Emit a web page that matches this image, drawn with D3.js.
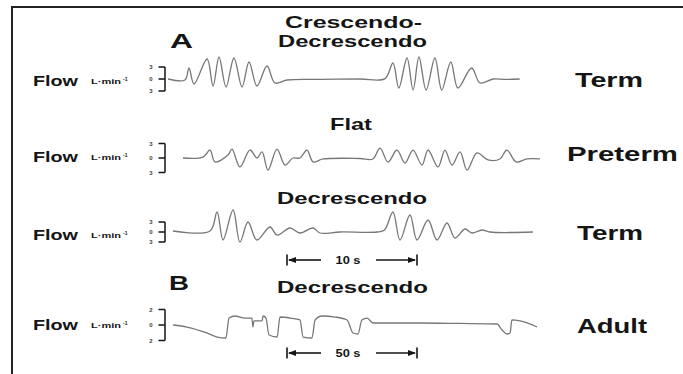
<!DOCTYPE html>
<html><head><meta charset="utf-8">
<script src="https://cdn.jsdelivr.net/npm/d3@7"></script>
<style>body{margin:0;background:#fff}svg{display:block}</style>
</head><body><svg id="c" width="683" height="374"></svg>
<script>
// ---- data: [time (s), flow (L·min-1)] ----
const termCrescDecresc = [
 [-0.15,0],[1.15,-0.25],[1.46,2.75],[1.85,-1.25],[2.85,5.0],[3.31,-1.75],[3.77,5.5],[4.31,-2.0],
 [4.92,5.25],[5.54,-2.0],[6.08,4.25],[6.69,-1.75],[7.46,3.25],[8.08,-1.0],[9.0,-0.25],[11.54,-0.1],
 [14.6,0],[16.54,0.1],[17.15,4.0],[17.6,-2.25],[18.23,5.25],[18.7,-2.75],[19.15,5.5],[19.7,-2.75],
 [20.38,5.25],[20.9,-2.75],[21.6,4.25],[22.15,-2.25],[23.2,2.75],[23.85,-1.0],[24.85,0],[25.77,-0.1],[26.9,0]
];
const pretermFlat = [
 [1.0,0],[2.54,0.2],[3.08,1.65],[3.46,-0.8],[4.46,0.6],[4.77,1.85],[5.38,-1.85],[6.15,1.65],[6.69,0],
 [7.08,1.25],[7.54,-2.5],[8.23,1.85],[8.85,-1.45],[9.46,0],[10.0,0],[10.54,1.65],[11.0,-0.8],[11.77,-0.2],
 [14.6,-0.1],[15.6,-0.2],[16.15,2.05],[16.77,-0.85],[17.46,1.65],[18.08,-1.05],[18.69,1.65],[19.38,-1.45],
 [19.85,1.65],[20.62,-1.85],[21.15,1.65],[21.69,-1.45],[22.31,1.25],[22.85,-2.5],[23.62,1.05],[24.46,-0.4],
 [25.38,-0.2],[25.92,1.65],[26.62,-0.8],[27.46,-0.2],[28.46,-0.2]
];
const termDecresc = [
 [0.23,0.3],[3.08,0.3],[3.62,6.0],[4.08,-2.4],[4.85,6.6],[5.38,-3.0],[6.0,3.0],[6.69,-2.4],[7.69,1.5],
 [8.23,-0.9],[9.23,1.2],[10.0,-0.3],[11.0,1.2],[11.54,-0.3],[13.08,0],[15.92,0],[16.5,0.6],[17.15,6.0],
 [17.69,-2.4],[18.46,5.1],[19.0,-2.4],[19.85,3.6],[20.54,-2.4],[21.31,2.7],[21.92,-1.8],[22.69,0.9],
 [23.23,-0.3],[24.0,0.6],[24.62,0],[27.92,0]
];
const adultDecresc = [
 [1.2,0],[6.5,-0.26],[14.2,-1.03],[18.1,-1.55],[21.5,-1.68],[22.7,0.9],[25.0,1.16],[28.8,0.9],[31.5,0.9],
 [31.9,-0.26],[32.3,0.52],[35.4,0.52],[35.8,1.16],[36.9,0.9],[38.1,-1.29],[41.2,-1.55],[42.3,1.03],
 [46.2,0.9],[50.0,0.65],[51.2,-1.55],[54.6,-1.68],[55.8,0.65],[58.5,1.16],[63.5,1.03],[68.1,0.65],
 [70.4,-1.03],[72.3,-1.16],[73.8,0.65],[75.8,0.9],[78.1,0.26],[96.2,0.26],[111.5,0.2],[125.8,0.13],
 [127.7,-0.65],[129.6,-1.16],[130.8,-1.03],[131.5,0.65],[134.6,0.52],[141.2,-0.26]
];
const infantTickValues = [3, 0, -3];
const infantTickLabels = ["3", "0", "3"];
const adultTickValues = [2, 0, -2];
const adultTickLabels = ["2", "0", "2"];
const patternTitles = [["Crescendo-", "Decrescendo"], ["Flat"], ["Decrescendo"], ["Decrescendo"]];
const groupLabels = ["Term", "Preterm", "Term", "Adult"];
const panelLetters = ["A", "B"];
const scaleBarLabels = ["10 s", "50 s"];
const scaleBarSpans = [[9, 19], [45, 95]];

// ---- layout ----
const svg = d3.select("#c");
const font = "'Liberation Sans', Arial, sans-serif";
const ink = "#151515";
const xInfant = d3.scaleLinear().domain([0, 10]).range([170, 300]);
const xAdult = d3.scaleLinear().domain([0, 50]).range([170, 300]);

function txt(x, y, s, size, len, anchor) {
  const t = svg.append("text").attr("x", x).attr("y", y).text(s)
    .attr("font-family", font).attr("font-weight", "bold").attr("font-size", size)
    .attr("fill", ink).attr("text-anchor", anchor || "start");
  if (len) t.attr("textLength", len).attr("lengthAdjust", "spacingAndGlyphs");
  return t;
}

// frame
svg.append("line").attr("x1", 12).attr("x2", 683).attr("y1", 7).attr("y2", 7).attr("stroke", "#222").attr("stroke-width", 2);
svg.append("line").attr("x1", 12).attr("x2", 12).attr("y1", 6).attr("y2", 374).attr("stroke", "#222").attr("stroke-width", 2);

const rows = [
  {data: termCrescDecresc, xs: xInfant, y0: 79, half: 12, tv: infantTickValues, tl: infantTickLabels,
   flowY: 86, label: {x: 575, w: 68, y: 87}, titleY: [28, 47], titleX: [285, 278], titleW: [137, 149]},
  {data: pretermFlat, xs: xInfant, y0: 158, half: 14.5, tv: infantTickValues, tl: infantTickLabels,
   flowY: 162, label: {x: 567, w: 111, y: 161}, titleY: [130], titleX: [330], titleW: [42]},
  {data: termDecresc, xs: xInfant, y0: 232, half: 10, tv: infantTickValues, tl: infantTickLabels,
   flowY: 240, label: {x: 577, w: 66, y: 240}, titleY: [204], titleX: [277], titleW: [150]},
  {data: adultDecresc, xs: xAdult, y0: 325, half: 15.5, tv: adultTickValues, tl: adultTickLabels,
   flowY: 330, label: {x: 577, w: 70, y: 333}, titleY: [293], titleX: [277], titleW: [151]}
];

rows.forEach((r, i) => {
  const maxV = r.tv[0];
  const ys = d3.scaleLinear().domain([-maxV, maxV]).range([r.y0 + r.half, r.y0 - r.half]);
  txt(33, r.flowY, "Flow", 14, 45);
  txt(91, r.flowY - 2, "L·min", 7.5, 30);
  svg.append("text").attr("x", 123).attr("y", r.flowY - 5).text("-1")
    .attr("font-family", font).attr("font-weight", "bold").attr("font-size", 5).attr("fill", ink);
  const g = svg.append("g").attr("stroke", ink).attr("stroke-width", 1.5).attr("fill", "none");
  g.append("line").attr("x1", 165).attr("x2", 165).attr("y1", ys(r.tv[0])).attr("y2", ys(r.tv[2]));
  r.tv.forEach((v, k) => {
    g.append("line").attr("x1", 158.5).attr("x2", 165).attr("y1", ys(v)).attr("y2", ys(v));
    svg.append("text").attr("x", 151).attr("y", ys(v)).attr("dy", "0.35em").text(r.tl[k])
      .attr("text-anchor", "middle").attr("font-family", font).attr("font-weight", "bold")
      .attr("font-size", 6).attr("fill", "#444");
  });
  const line = d3.line().x(d => r.xs(d[0])).y(d => ys(d[1]))
    .curve(i === 3 ? d3.curveMonotoneX : d3.curveCatmullRom.alpha(0.5));
  svg.append("path").datum(r.data).attr("d", line).attr("fill", "none")
    .attr("stroke", "#777").attr("stroke-width", 1.3).attr("stroke-linejoin", "round");
  patternTitles[i].forEach((s, k) => txt(r.titleX[k], r.titleY[k], s, 17, r.titleW[k]));
  txt(r.label.x, r.label.y, groupLabels[i], 20, r.label.w);
});

txt(170, 48, panelLetters[0], 21, 23);
txt(169, 290, panelLetters[1], 21, 20);

const bars = [{xs: xInfant, y: 260}, {xs: xAdult, y: 353}];
bars.forEach((b, i) => {
  const x1 = b.xs(scaleBarSpans[i][0]), x2 = b.xs(scaleBarSpans[i][1]);
  const g = svg.append("g").attr("stroke", ink).attr("stroke-width", 1.6);
  g.append("line").attr("x1", x1).attr("x2", x1).attr("y1", b.y - 5.5).attr("y2", b.y + 5.5);
  g.append("line").attr("x1", x2).attr("x2", x2).attr("y1", b.y - 5.5).attr("y2", b.y + 5.5);
  g.append("line").attr("x1", x1 + 2).attr("x2", 321).attr("y1", b.y).attr("y2", b.y);
  g.append("line").attr("x1", 376).attr("x2", x2 - 2).attr("y1", b.y).attr("y2", b.y);
  svg.append("path").attr("fill", ink)
    .attr("d", `M${x1 + 1},${b.y}L${x1 + 9},${b.y - 3}L${x1 + 9},${b.y + 3}Z`);
  svg.append("path").attr("fill", ink)
    .attr("d", `M${x2 - 1},${b.y}L${x2 - 9},${b.y - 3}L${x2 - 9},${b.y + 3}Z`);
  txt(348, b.y + 3.5, scaleBarLabels[i], 10, 25, "middle");
});
</script></body></html>
